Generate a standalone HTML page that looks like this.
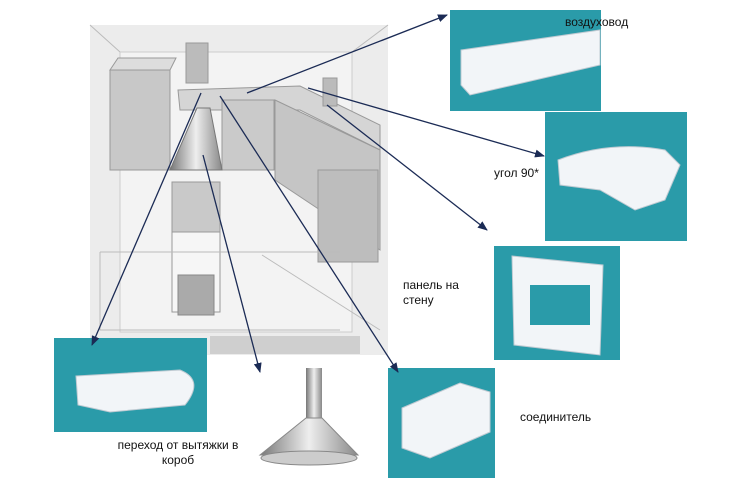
<!DOCTYPE html>
<html><head><meta charset="utf-8"><style>
body{margin:0;width:730px;height:480px;background:#fff;position:relative;overflow:hidden;font-family:"Liberation Sans","DejaVu Sans",sans-serif;}
.t{position:absolute;background:#2a9ba9;}
.l{position:absolute;font-size:12px;color:#111;line-height:15px;}
svg{position:absolute;left:0;top:0}
</style></head><body>
<svg width="730" height="480" viewBox="0 0 730 480">
<defs><marker id="a" markerWidth="10" markerHeight="8" refX="9" refY="4" orient="auto" markerUnits="userSpaceOnUse"><path d="M0,0 L10,4 L0,8 Z" fill="#1b2b55"/></marker>
<linearGradient id="m" x1="0" x2="1"><stop offset="0" stop-color="#777"/><stop offset=".5" stop-color="#eee"/><stop offset="1" stop-color="#888"/></linearGradient></defs>
<!-- kitchen -->
<rect x="90" y="25" width="298" height="330" fill="#ececec"/>
<rect x="120" y="52" width="232" height="280" fill="#f3f3f3" stroke="#ccc"/>
<path d="M90,25 L120,52 M388,25 L352,52" stroke="#bbb" fill="none"/>
<rect x="110" y="70" width="60" height="100" fill="#c8c8c8" stroke="#999"/>
<path d="M110,70 L118,58 L176,58 L170,70Z" fill="#ddd" stroke="#999"/>
<rect x="186" y="43" width="22" height="40" fill="#bbb" stroke="#999"/>
<path d="M178,90 L300,86 L380,125 L380,150 L300,110 L180,110Z" fill="#d5d5d5" stroke="#999"/>
<rect x="222" y="100" width="52" height="70" fill="#cacaca" stroke="#999"/>
<path d="M275,100 L380,150 L380,250 L275,180Z" fill="#c5c5c5" stroke="#999"/>
<rect x="318" y="170" width="60" height="92" fill="#bdbdbd" stroke="#999"/>
<rect x="323" y="78" width="14" height="28" fill="#bbb" stroke="#999"/>
<path d="M197,108 L210,108 L222,170 L170,170Z" fill="url(#m)" stroke="#777"/>
<rect x="172" y="182" width="48" height="50" fill="#c9c9c9" stroke="#999"/>
<rect x="172" y="232" width="48" height="80" fill="#f6f6f6" stroke="#999"/>
<rect x="178" y="275" width="36" height="40" fill="#aaa" stroke="#888"/>
<path d="M100,252 L340,252 M100,252 L100,330 L340,330 M262,255 L380,330" stroke="#bbb" fill="none"/>
<rect x="210" y="336" width="150" height="18" fill="#cfcfcf"/>
<!-- hood bottom -->
<rect x="306" y="368" width="16" height="55" fill="url(#m)"/>
<path d="M306,418 L322,418 L358,455 L260,455Z" fill="url(#m)" stroke="#888"/>
<ellipse cx="309" cy="458" rx="48" ry="7" fill="#ccc" stroke="#888"/>
</svg>
<div class="t" style="left:450px;top:10px;width:151px;height:101px"></div>
<div class="t" style="left:545px;top:112px;width:142px;height:129px"></div>
<div class="t" style="left:494px;top:246px;width:126px;height:114px"></div>
<div class="t" style="left:54px;top:338px;width:153px;height:94px"></div>
<div class="t" style="left:388px;top:368px;width:107px;height:110px"></div>
<svg width="730" height="480" viewBox="0 0 730 480">
<g fill="#f2f5f8" stroke="#bfcad2">
<path d="M461,50 L600,30 L600,65 L470,95 L461,85Z"/>
<path d="M558,160 Q610,140 665,150 L680,165 L665,200 L635,210 L600,190 L560,185Z"/>
<path d="M512,256 L603,265 L600,355 L514,345Z"/>
<path d="M76,376 L180,370 Q205,380 185,405 L110,412 L78,405Z"/>
<path d="M402,408 L460,383 L490,392 L490,432 L430,458 L402,448Z"/>
</g>
<rect x="530" y="285" width="60" height="40" fill="#2a9ba9"/>
<g stroke="#1b2b55" stroke-width="1.3" fill="none" marker-end="url(#a)">
<line x1="247" y1="93" x2="447" y2="15"/>
<line x1="308" y1="88" x2="544" y2="156"/>
<line x1="327" y1="105" x2="487" y2="230"/>
<line x1="201" y1="93" x2="92" y2="345"/>
<line x1="203" y1="155" x2="260" y2="372"/>
<line x1="220" y1="96" x2="398" y2="372"/>
</g>
</svg>
<div class="l" style="left:565px;top:15px">воздуховод</div>
<div class="l" style="left:494px;top:166px">угол 90*</div>
<div class="l" style="left:403px;top:278px">панель на<br>стену</div>
<div class="l" style="left:520px;top:410px">соединитель</div>
<div class="l" style="left:98px;top:438px;width:160px;text-align:center">переход от вытяжки в<br>короб</div>
</body></html>
